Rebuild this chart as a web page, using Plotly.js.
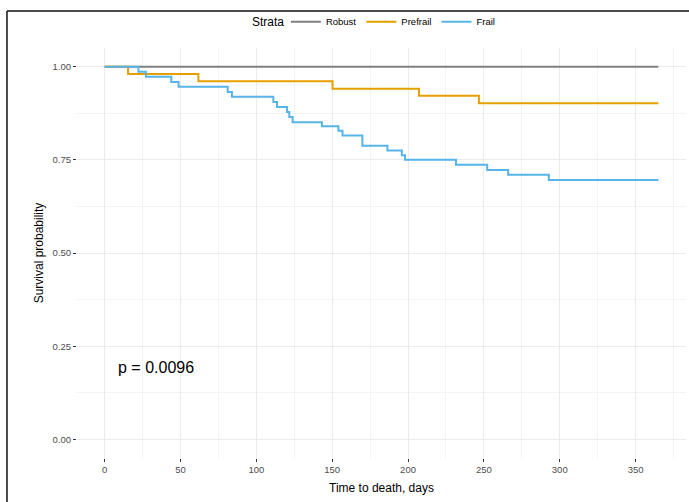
<!DOCTYPE html>
<html>
<head>
<meta charset="utf-8">
<script src="https://cdn.plot.ly/plotly-3.0.1.min.js"></script>
<style>html,body{margin:0;padding:0;background:#fff;}#chart{width:689px;height:502px;}</style>
</head>
<body>
<div id="chart"></div>
<script>
// Data
var strata = ["Robust", "Prefrail", "Frail"];
var robustDays = [0, 365];
var robustSurv = [1, 1];
var prefrailDays = [0, 15.4, 61.8, 150.2, 207.2, 246.7, 365];
var prefrailSurv = [1, 0.980, 0.961, 0.941, 0.922, 0.902, 0.902];
var frailDays = [0, 22.2, 27.2, 43.9, 48.7, 81.1, 83.9, 111.2, 113.6, 120.2, 121.7, 123.9, 143.2, 154.1, 156.8, 169.9, 186.4, 195.9, 198, 231.6, 252.2, 266, 292.8, 365];
var frailSurv = [1, 0.986, 0.973, 0.959, 0.946, 0.932, 0.919, 0.905, 0.892, 0.878, 0.865, 0.851, 0.840, 0.828, 0.815, 0.788, 0.775, 0.762, 0.750, 0.737, 0.723, 0.710, 0.696, 0.696];
var xTicks = [0, 50, 100, 150, 200, 250, 300, 350];
var yTicks = [0, 0.25, 0.5, 0.75, 1];
var yTickText = ["0.00", "0.25", "0.50", "0.75", "1.00"];
var legendTitle = "Strata";
var pText = "p = 0.0096";
var colors = ["#808080", "#E69F00", "#56B4E9"];

var FONT = "Liberation Sans, Arial, Helvetica, sans-serif";
var xs = [robustDays, prefrailDays, frailDays];
var ys = [robustSurv, prefrailSurv, frailSurv];
var traces = strata.map(function (s, i) {
  return {
    x: xs[i], y: ys[i], name: s, type: "scatter", mode: "lines",
    line: {shape: "hv", color: colors[i], width: 2},
    hoverinfo: "skip"
  };
});

var legY = 1.064;
var layout = {
  width: 689, height: 502,
  margin: {l: 77, r: 3, t: 48, b: 44},
  paper_bgcolor: "#ffffff", plot_bgcolor: "#ffffff",
  font: {family: FONT, color: "#4d4d4d", size: 10},
  showlegend: true,
  legend: {
    orientation: "h", x: 0.343, xanchor: "left", y: legY, yanchor: "middle",
    font: {size: 9.5, color: "#000"}, itemwidth: 30, tracegroupgap: 0,
    bgcolor: "rgba(0,0,0,0)"
  },
  xaxis: {
    range: [-18.25, 383.25], tickvals: xTicks, ticks: "outside", ticklen: 3,
    tickcolor: "#333", tickwidth: 1, showline: false, zeroline: false,
    showgrid: true, gridcolor: "#ebebeb", gridwidth: 1,
    minor: {dtick: 25, tick0: 0, showgrid: true, gridcolor: "#f3f3f3", gridwidth: 1, ticks: ""},
    tickfont: {size: 9.5, color: "#4d4d4d"},
    title: {text: "Time to death, days", font: {size: 12, color: "#000"}, standoff: 9}
  },
  yaxis: {
    range: [-0.05, 1.05], tickvals: yTicks, ticktext: yTickText, ticks: "outside", ticklen: 3,
    tickcolor: "#333", tickwidth: 1, showline: false, zeroline: false,
    showgrid: true, gridcolor: "#ebebeb", gridwidth: 1,
    minor: {dtick: 0.125, tick0: 0, showgrid: true, gridcolor: "#f3f3f3", gridwidth: 1, ticks: ""},
    tickfont: {size: 9.5, color: "#4d4d4d"},
    title: {text: "Survival probability", font: {size: 12, color: "#000"}, standoff: 6}
  },
  annotations: [{
    x: 7.3, y: 0.194, xref: "x", yref: "y", text: pText, showarrow: false,
    xanchor: "left", yanchor: "middle", font: {size: 16, color: "#000", family: FONT}
  }, {
    x: 0.343, y: legY, xref: "paper", yref: "paper", text: legendTitle, showarrow: false,
    xanchor: "right", yanchor: "middle", font: {size: 12, color: "#000", family: FONT}
  }],
  shapes: [
    {type: "line", xref: "paper", yref: "paper", x0: -0.115, x1: -0.115, y0: 1.09, y1: -0.2,
     line: {color: "#111", width: 1.5}},
    {type: "line", xref: "paper", yref: "paper", x0: -0.115, x1: 1.1, y0: 1.09, y1: 1.09,
     line: {color: "#111", width: 1.5}}
  ]
};

Plotly.newPlot("chart", traces, layout, {displayModeBar: false, staticPlot: true});
</script>
</body>
</html>
